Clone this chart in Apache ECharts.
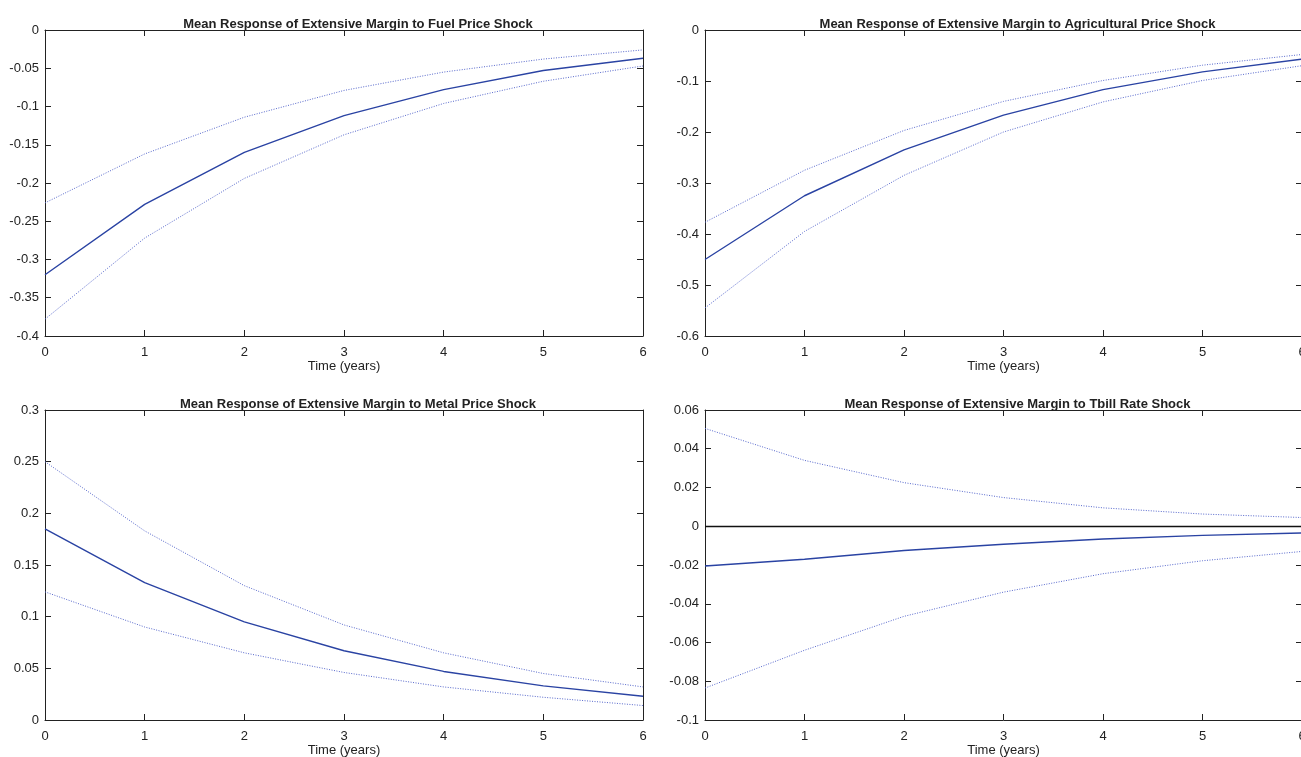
<!DOCTYPE html>
<html>
<head>
<meta charset="utf-8">
<title>Mean Response of Extensive Margin</title>
<script src="https://cdn.jsdelivr.net/npm/echarts@6/dist/echarts.min.js"></script>
<style>
  html, body { margin: 0; padding: 0; background: #fff; }
  #chart_box { width: 1301px; height: 757px; }
</style>
</head>
<body>
<div id="chart_box"></div>
<script>
// horizon (years)
var years = [0, 1, 2, 3, 4, 5, 6];

// fuel price shock
var fuelMean  = [-0.320, -0.228, -0.160, -0.112, -0.078, -0.053, -0.037];
var fuelUpper = [-0.226, -0.162, -0.114, -0.079, -0.055, -0.038, -0.026];
var fuelLower = [-0.378, -0.272, -0.194, -0.137, -0.096, -0.067, -0.047];

// agricultural price shock
var agriMean  = [-0.450, -0.325, -0.235, -0.167, -0.117, -0.082, -0.057];
var agriUpper = [-0.377, -0.275, -0.197, -0.140, -0.099, -0.069, -0.048];
var agriLower = [-0.545, -0.395, -0.285, -0.200, -0.141, -0.099, -0.070];

// metal price shock
var metalMean  = [0.185, 0.133, 0.095, 0.067, 0.047, 0.033, 0.023];
var metalUpper = [0.250, 0.183, 0.130, 0.092, 0.065, 0.045, 0.032];
var metalLower = [0.124, 0.090, 0.065, 0.046, 0.032, 0.022, 0.014];

// tbill rate shock
var tbillMean  = [-0.0205, -0.0170, -0.0125, -0.0093, -0.0066, -0.0047, -0.0035];
var tbillUpper = [0.0505, 0.0340, 0.0225, 0.0148, 0.0095, 0.0063, 0.0045];
var tbillLower = [-0.0835, -0.0640, -0.0465, -0.0340, -0.0245, -0.0178, -0.0130];

// y axis ranges: [min, max, interval]
var fuelRange  = [-0.4, 0, 0.05];
var agriRange  = [-0.6, 0, 0.1];
var metalRange = [0, 0.3, 0.05];
var tbillRange = [-0.1, 0.06, 0.02];

var panelTitles = [
    'Mean Response of Extensive Margin to Fuel Price Shock',
    'Mean Response of Extensive Margin to Agricultural Price Shock',
    'Mean Response of Extensive Margin to Metal Price Shock',
    'Mean Response of Extensive Margin to Tbill Rate Shock'
];

var fontFamily = '"Liberation Sans", Arial, Helvetica, sans-serif';
var meanColor = '#2a43a3';
var bandColor = '#5768cc';

// panel boxes (pixels)
var grids = [
    {left: 45,  top: 30,  width: 598, height: 306},
    {left: 705, top: 30,  width: 597, height: 306},
    {left: 45,  top: 410, width: 598, height: 310},
    {left: 705, top: 410, width: 597, height: 310}
];

function pairs(vals) {
    var out = [];
    for (var i = 0; i < years.length; i++) {
        out.push([years[i], vals[i]]);
    }
    return out;
}

var option = {
    backgroundColor: '#fff',
    animation: false,
    title: [],
    grid: [],
    xAxis: [],
    yAxis: [],
    series: []
};

function addPanel(idx, range, mean, upper, lower, zeroLine) {
    var g = grids[idx];
    option.grid.push({
        left: g.left, top: g.top, width: g.width, height: g.height,
        containLabel: false, outerBoundsMode: 'none'
    });
    option.title.push({
        text: panelTitles[idx],
        left: g.left + g.width / 2 + 9,
        top: g.top - 17,
        textAlign: 'center',
        textStyle: {fontFamily: fontFamily, fontSize: 13, fontWeight: 'bold', color: '#222'}
    });
    var lineAx = {show: true, onZero: false, lineStyle: {color: '#222', width: 1}};
    var tickIn = {show: true, inside: true, length: 6, lineStyle: {color: '#222'}};
    // bottom x
    option.xAxis.push({
        gridIndex: idx, type: 'value', position: 'bottom',
        min: 0, max: 6, interval: 1,
        name: 'Time (years)', nameLocation: 'middle', nameGap: 24,
        nameTextStyle: {fontFamily: fontFamily, fontSize: 13, color: '#222'},
        axisLine: lineAx, axisTick: tickIn,
        axisLabel: {fontFamily: fontFamily, fontSize: 13, color: '#222', margin: 10},
        splitLine: {show: false}
    });
    // top x (box)
    option.xAxis.push({
        gridIndex: idx, type: 'value', position: 'top',
        min: 0, max: 6, interval: 1,
        axisLine: lineAx, axisTick: tickIn,
        axisLabel: {show: false}, splitLine: {show: false}
    });
    // left y
    option.yAxis.push({
        gridIndex: idx, type: 'value', position: 'left',
        min: range[0], max: range[1], interval: range[2],
        axisLine: lineAx, axisTick: tickIn,
        axisLabel: {fontFamily: fontFamily, fontSize: 13, color: '#222', margin: 6,
            formatter: function (v) { return String(+v.toFixed(4)); }},
        splitLine: {show: false}
    });
    // right y (box)
    option.yAxis.push({
        gridIndex: idx, type: 'value', position: 'right',
        min: range[0], max: range[1], interval: range[2],
        axisLine: lineAx, axisTick: tickIn,
        axisLabel: {show: false}, splitLine: {show: false}
    });
    var xi = idx * 2, yi = idx * 2;
    var meanSeries = {
        type: 'line', xAxisIndex: xi, yAxisIndex: yi,
        data: pairs(mean), showSymbol: false, z: 3,
        lineStyle: {color: meanColor, width: 1.4}
    };
    if (zeroLine) {
        meanSeries.markLine = {
            silent: true, symbol: 'none', label: {show: false},
            lineStyle: {color: '#111', width: 1.4, type: 'solid'},
            data: [{yAxis: 0}]
        };
    }
    option.series.push(meanSeries);
    option.series.push({
        type: 'line', xAxisIndex: xi, yAxisIndex: yi,
        data: pairs(upper), showSymbol: false,
        lineStyle: {color: bandColor, width: 1, type: [1, 1.5]}
    });
    option.series.push({
        type: 'line', xAxisIndex: xi, yAxisIndex: yi,
        data: pairs(lower), showSymbol: false,
        lineStyle: {color: bandColor, width: 1, type: [1, 1.5]}
    });
}

addPanel(0, fuelRange, fuelMean, fuelUpper, fuelLower, false);
addPanel(1, agriRange, agriMean, agriUpper, agriLower, false);
addPanel(2, metalRange, metalMean, metalUpper, metalLower, false);
addPanel(3, tbillRange, tbillMean, tbillUpper, tbillLower, true);

var myChart = echarts.init(document.getElementById('chart_box'), null, {renderer: 'canvas'});
myChart.setOption(option);
</script>
</body>
</html>
